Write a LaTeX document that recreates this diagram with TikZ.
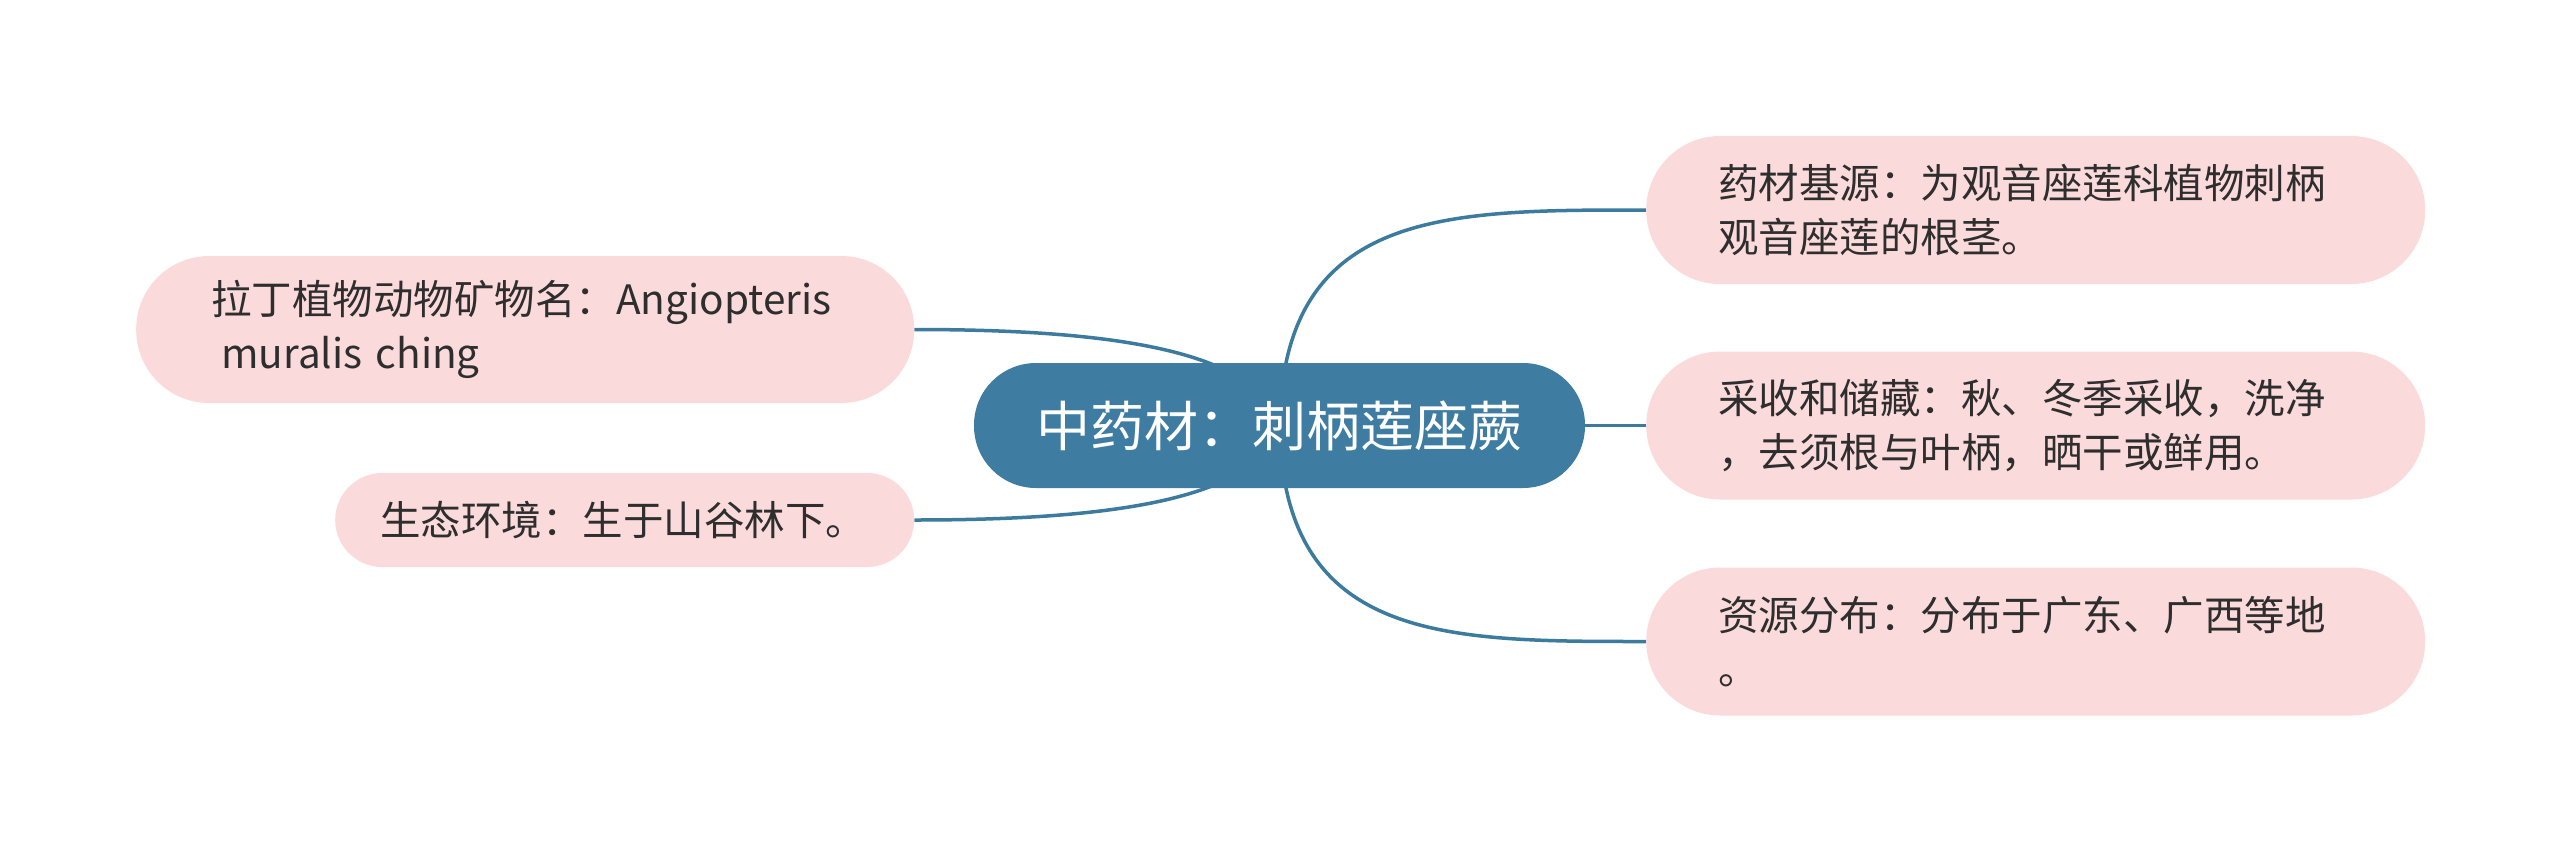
\documentclass[tikz,border=0pt]{standalone}
\usepackage{fontspec}
\newfontfamily\cjk{Noto Sans CJK SC}
\definecolor{mainblue}{HTML}{3E7CA2}
\definecolor{linkblue}{HTML}{3C7A9E}
\definecolor{leafpink}{HTML}{FADADB}
\definecolor{leaftext}{HTML}{2E2E2E}
\pgfdeclarelayer{background}
\pgfsetlayers{background,main}
\begin{document}
\begin{tikzpicture}[x=1pt,y=-1pt,
  rootbox/.style={fill=mainblue, text=white, font=\cjk\fontsize{54}{60}\selectfont,
    minimum width=611pt, minimum height=125pt, rounded corners=62pt, inner sep=0pt},
  leafbox/.style={fill=leafpink, text=leaftext, font=\cjk\fontsize{40.5}{54}\selectfont,
    align=left, anchor=west, inner ysep=0pt},
  link/.style={draw=linkblue, line width=3.5pt}]
\useasboundingbox (0,0) rectangle (2560,852);

\node[rootbox] (root) at (1279.5,425.5) {中药材：刺柄莲座蕨};

\node[leafbox, text width=635pt, inner xsep=72pt, minimum height=148pt, rounded corners=74pt]
  (r1) at (1646,210) {药材基源：为观音座莲科植物刺柄\\观音座莲的根茎。};
\node[leafbox, text width=635pt, inner xsep=72pt, minimum height=148pt, rounded corners=74pt]
  (r2) at (1646,425.5) {采收和储藏：秋、冬季采收，洗净\\，去须根与叶柄，晒干或鲜用。};
\node[leafbox, text width=635pt, inner xsep=72pt, minimum height=148pt, rounded corners=74pt]
  (r3) at (1646,641.5) {资源分布：分布于广东、广西等地\\。};

\node[leafbox, text width=628pt, inner xsep=75pt, minimum height=147pt, rounded corners=73pt]
  (l1) at (136,329.5) {拉丁植物动物矿物名：Angiopteris\\\hspace*{0.25em}muralis ching};
\node[leafbox, text width=489pt, inner xsep=45pt, minimum height=94pt, rounded corners=47pt]
  (l2) at (335,520) {生态环境：生于山谷林下。};

\begin{pgfonlayer}{background}
\draw[link] (root.center) .. controls (1283,209) and (1445,210) .. (r1.west);
\draw[link] (root.center) -- (r2.west);
\draw[link] (root.center) .. controls (1283,642) and (1445,641.5) .. (r3.west);
\draw[link] (root.center) .. controls (1258,350) and (1110,329.5) .. (l1.east);
\draw[link] (root.center) .. controls (1258,500) and (1110,520) .. (l2.east);
\end{pgfonlayer}
\end{tikzpicture}
\end{document}
